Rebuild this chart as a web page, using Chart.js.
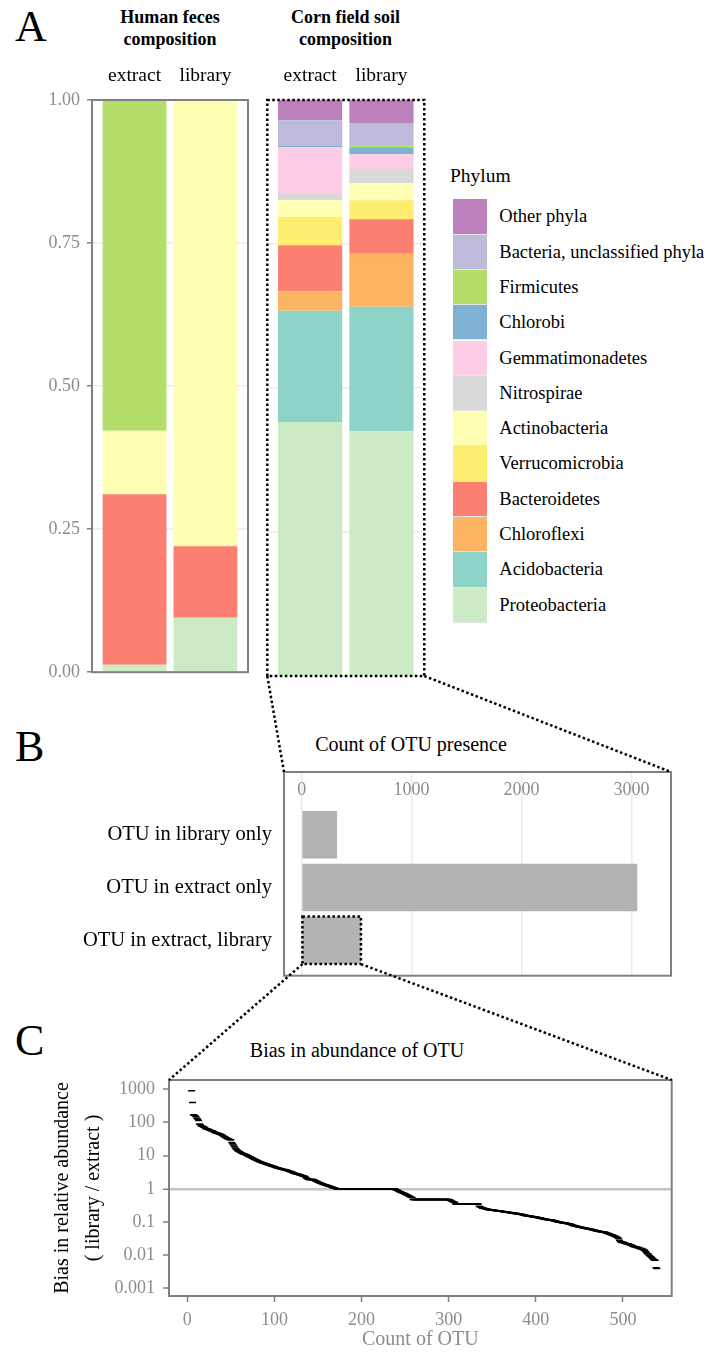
<!DOCTYPE html>
<html><head><meta charset="utf-8">
<script src="https://cdn.jsdelivr.net/npm/chart.js@4/dist/chart.umd.min.js"></script>
<style>
html,body{margin:0;padding:0;background:#fff;}
body{width:706px;height:1352px;position:relative;overflow:hidden;font-family:"Liberation Serif",serif;color:#000;}
canvas{position:absolute;}
.t{position:absolute;white-space:nowrap;}
.letter{font-size:44px;line-height:44px;}
.key{position:absolute;left:452.7px;width:34px;height:35.3px;box-sizing:border-box;border-bottom:1px solid #e6e6e6;}
.klab{position:absolute;left:499.3px;height:35.3px;line-height:35.3px;font-size:18.5px;white-space:nowrap;}
</style></head><body>
<div class="t letter" style="left:15px;top:5px;">A</div>
<div class="t letter" style="left:15px;top:725px;">B</div>
<div class="t letter" style="left:15px;top:1019px;">C</div>
<div class="t" style="left:92px;width:156px;top:6px;text-align:center;font-weight:bold;font-size:18px;line-height:22px;">Human feces<br>composition</div>
<div class="t" style="left:267px;width:157px;top:6px;text-align:center;font-weight:bold;font-size:18px;line-height:22px;">Corn field soil<br>composition</div>
<div class="t" style="left:211px;width:400px;top:734px;text-align:center;font-size:20px;line-height:20px;">Count of OTU presence</div>
<div class="t" style="left:157px;width:400px;top:1040px;text-align:center;font-size:20px;line-height:20px;">Bias in abundance of OTU</div>
<div class="t" style="left:450px;top:166px;font-size:19.5px;line-height:19.5px;">Phylum</div>
<div id="legend"></div>
<canvas id="feces" width="260" height="690" style="left:0;top:0"></canvas>
<canvas id="soil" width="180" height="690" style="left:256px;top:0"></canvas>
<canvas id="presence" width="690" height="240" style="left:0;top:760px"></canvas>
<canvas id="bias" width="706" height="352" style="left:0;top:1000px"></canvas>
<canvas id="overlay" width="706" height="1352" style="left:0;top:0;pointer-events:none"></canvas>
<script>
// ---------- data ----------
const phyla = ['Proteobacteria','Acidobacteria','Chloroflexi','Bacteroidetes','Verrucomicrobia','Actinobacteria','Nitrospirae','Gemmatimonadetes','Chlorobi','Firmicutes','Bacteria, unclassified phyla','Other phyla'];
const phylumColors = ['#CCEBC5','#8DD3C7','#FDB462','#FB8072','#FFED6F','#FFFFB3','#D9D9D9','#FCCDE5','#80B1D3','#B3DE69','#BEBADA','#BC80BD'];
const samples = ['extract','library'];
const fecesExtract = [0.013,0,0,0.298,0,0.111,0,0,0,0.578,0,0];
const fecesLibrary = [0.095,0,0,0.125,0.002,0.778,0,0,0,0,0,0];
const soilExtract  = [0.441,0.193,0.034,0.080,0.049,0.029,0.011,0.081,0.002,0,0.045,0.035];
const soilLibrary  = [0.425,0.216,0.092,0.060,0.033,0.030,0.024,0.026,0.012,0.004,0.038,0.040];
const shareTicks = [0,0.25,0.5,0.75,1];

const presenceCategories = ['OTU in library only','OTU in extract only','OTU in extract, library'];
const presenceCounts = [322,3053,539];
const presenceTicks = [0,1000,2000,3000];

const biasStartRank = 5;
const biasValues = [
900,400,
170,165,160,150,135,125,115,
90,85,78,77,75,72,70,
66,65,63,62,60,58,57,56,55,53,52,50,49,48,47,46,45,44,43,42,
40,38,37,35,34,33,32,31,30,30,
25,23,21,19,17,16,15,
14,13.5,13,12.6,12.2,11.8,11.5,11.2,11,10.7,10.4,10.1,9.8,9.5,9.2,8.9,8.6,8.3,8.0,7.8,7.6,7.4,7.2,
7.0,6.8,6.6,6.5,6.3,6.1,6.0,5.9,5.8,5.6,5.5,5.4,5.3,5.2,5.1,5.0,
4.9,4.8,4.7,4.6,4.5,4.4,4.3,4.25,4.2,4.1,4.0,3.95,3.9,3.85,3.8,3.75,3.7,3.6,3.55,
3.5,3.4,3.3,3.25,3.2,3.1,3.0,2.95,2.9,2.85,2.8,2.75,2.7,2.65,2.6,2.55,2.5,2.45,2.4,2.35,
2.2,2.1,2.0,1.95,1.9,1.9,1.9,1.9,1.9,1.85,
1.8,1.75,1.7,1.65,1.6,1.56,1.52,1.48,1.45,1.42,1.38,1.35,1.32,
1.3,1.27,1.25,1.22,1.2,1.18,1.15,1.13,1.1,1.08,1.06,1.05,
1,1,1,1,1,1,1,1,1,1,1,1,1,1,1,1,1,
1,1,1,1,1,1,1,1,1,1,1,1,1,1,1,1,1,
1,1,1,1,1,1,1,1,1,1,1,1,1,1,1,1,1,
1,1,1,1,1,1,1,1,1,1,1,1,1,1,1,1,1,
0.95,0.92,0.9,0.87,0.85,0.82,0.8,0.78,0.76,0.74,0.72,0.7,0.68,0.66,0.64,0.62,0.6,0.58,0.56,0.55,
0.48,0.48,0.48,0.48,0.48,0.48,0.48,0.48,0.48,0.48,0.48,0.48,0.48,0.48,
0.48,0.48,0.48,0.48,0.48,0.48,0.48,0.48,0.48,0.48,0.48,0.48,0.48,0.48,
0.48,0.48,0.48,0.48,0.48,0.48,0.48,0.48,0.48,0.48,0.48,0.48,0.48,0.48,
0.46,0.45,0.43,0.42,0.41,0.4,0.39,
0.35,0.35,0.35,0.35,0.35,0.35,0.35,0.35,0.35,
0.35,0.35,0.35,0.35,0.35,0.35,0.35,0.35,0.35,
0.35,0.35,0.35,0.35,0.35,0.35,0.35,0.35,0.35,
0.3,0.29,0.28,0.27,0.26,0.26,
0.255,0.25,0.25,0.245,0.24,0.24,0.235,0.235,0.23,0.23,0.228,0.226,0.224,0.222,0.22,0.22,0.218,0.216,0.214,0.212,
0.21,0.208,0.205,0.203,0.2,0.2,0.198,0.196,0.194,0.192,0.19,0.19,0.188,0.186,0.184,0.182,0.18,0.18,0.178,0.176,
0.175,0.172,0.17,0.168,0.165,0.162,0.16,0.158,0.156,0.154,0.152,0.15,0.149,0.148,0.147,0.146,0.145,0.143,0.141,0.14,
0.139,0.137,0.135,0.133,0.131,0.13,0.128,0.126,0.125,0.123,0.122,0.12,0.119,0.118,0.117,0.116,0.115,0.114,0.113,0.112,
0.11,0.108,0.106,0.104,0.102,0.1,0.099,0.098,0.097,0.096,0.095,0.094,0.093,0.092,0.091,0.09,0.089,0.088,0.087,0.085,
0.083,0.081,0.079,0.078,0.076,0.075,0.074,0.073,0.072,0.071,0.07,0.069,0.068,0.067,0.066,0.065,0.065,0.064,0.064,0.063,
0.062,0.061,0.06,0.059,0.058,0.057,0.056,0.056,0.055,0.054,0.054,0.053,0.052,0.052,0.051,0.051,0.05,0.05,0.049,0.048,
0.047,0.046,0.045,0.044,0.043,0.042,0.041,0.04,0.039,0.038,0.037,0.036,0.035,0.034,0.032,
0.028,0.026,0.025,0.025,0.024,0.024,0.023,0.023,0.022,0.022,0.022,0.021,0.021,0.02,0.02,
0.019,0.019,0.018,0.018,0.018,0.017,0.017,0.017,0.016,0.016,0.016,0.015,0.015,0.014,0.014,
0.013,0.012,0.011,0.011,0.01,0.0095,0.009,0.0085,0.008,0.0075,0.0072,0.007,
0.0042,0.004
];
const biasXTicks = [0,100,200,300,400,500];
const biasYTicks = [0.001,0.01,0.1,1,10,100,1000];

// ---------- styling ----------
const GRAY_TXT = '#8c8c8c';
const BOX_GRAY = '#808080';
const GRID = '#EBEBEB';
Chart.defaults.font.family = '"Liberation Serif", serif';
Chart.defaults.animation = false;
Chart.defaults.responsive = false;
Chart.defaults.devicePixelRatio = 1;
Chart.defaults.plugins.legend.display = false;
Chart.defaults.plugins.tooltip.enabled = false;

const panelBox = {
  id: 'panelBox',
  afterDatasetsDraw(chart, args, opts) {
    const a = chart.chartArea, ctx = chart.ctx;
    ctx.save();
    ctx.strokeStyle = opts.color; ctx.lineWidth = opts.width;
    ctx.setLineDash(opts.dash || []);
    const top = a.top - (opts.extendTop || 0);
    ctx.strokeRect(a.left, top, a.right - a.left, a.bottom - top);
    ctx.restore();
  }
};
const dottedBar = {
  id: 'dottedBar',
  afterDatasetsDraw(chart, args, opts) {
    const el = chart.getDatasetMeta(0).data[opts.index];
    const p = el.getProps(['x','y','base','height'], true);
    const ctx = chart.ctx;
    ctx.save();
    ctx.strokeStyle = '#000'; ctx.lineWidth = 2.5; ctx.setLineDash([2.5,2.5]);
    ctx.strokeRect(Math.min(p.x,p.base), p.y - p.height/2, Math.abs(p.x - p.base), p.height);
    ctx.restore();
  }
};

function compositionChart(id, extractVals, libraryVals, showY, box) {
  const sampleVals = [extractVals, libraryVals];
  const datasets = phyla.map((p, i) => ({
    label: p,
    data: samples.map((s, j) => ({x: j + 1, y: sampleVals[j][i]})),
    backgroundColor: phylumColors[i],
    borderWidth: 0,
    categoryPercentage: 1,
    barPercentage: 0.9
  }));
  return new Chart(document.getElementById(id), {
    type: 'bar',
    data: {datasets},
    plugins: [panelBox],
    options: {
      layout: {padding: {top: 0, bottom: 14, right: showY ? 12 : 11.7, left: 0}},
      plugins: {panelBox: box},
      scales: {
        x: {
          type: 'linear', position: 'top', min: 0.4, max: 2.6, stacked: true, offset: false,
          afterBuildTicks: s => { s.ticks = samples.map((v, j) => ({value: j + 1})); },
          ticks: {callback: v => samples[v - 1], color: '#000', font: {size: 19.5}, padding: 12, maxRotation: 0, autoSkip: false},
          grid: {display: false, drawTicks: false, offset: false},
          border: {display: false},
          afterFit: s => { s.height = 100; }
        },
        y: {
          type: 'linear', min: 0, max: 1, stacked: true,
          afterBuildTicks: s => { s.ticks = shareTicks.map(v => ({value: v})); },
          ticks: {display: showY, callback: v => v.toFixed(2), color: GRAY_TXT, font: {size: 18}, padding: 7},
          grid: {color: GRID, lineWidth: 1.5, drawTicks: showY, tickLength: 5, tickColor: BOX_GRAY, tickWidth: 1.5},
          border: {display: false},
          afterFit: s => { s.width = showY ? 92 : 11.3; }
        }
      }
    }
  });
}

const fecesChart = compositionChart('feces', fecesExtract, fecesLibrary, true, {color: BOX_GRAY, width: 2});
const soilChart = compositionChart('soil', soilExtract, soilLibrary, false, {color: '#000', width: 2.5, dash: [2.5, 2.5]});

// legend (HTML)
const legendEl = document.getElementById('legend');
phyla.slice().reverse().forEach((p, k) => {
  const i = phyla.length - 1 - k;
  const top = 199.3 + k * 35.3;
  const key = document.createElement('div');
  key.className = 'key'; key.style.top = top + 'px'; key.style.background = phylumColors[i];
  legendEl.appendChild(key);
  const lab = document.createElement('div');
  lab.className = 'klab'; lab.style.top = top + 'px'; lab.textContent = p;
  legendEl.appendChild(lab);
});

const presenceChart = new Chart(document.getElementById('presence'), {
  type: 'bar',
  data: {datasets: [{
    data: presenceCounts.map((c, i) => ({x: c, y: i + 1})),
    backgroundColor: '#B3B3B3', borderWidth: 0, categoryPercentage: 1, barPercentage: 0.9
  }]},
  plugins: [panelBox, dottedBar],
  options: {
    indexAxis: 'y',
    layout: {padding: {top: 0, bottom: 8, right: 19, left: 0}},
    plugins: {panelBox: {color: BOX_GRAY, width: 2, extendTop: 31}, dottedBar: {index: 2}},
    scales: {
      x: {
        type: 'linear', position: 'top', min: -161, max: 3360, offset: false,
        afterBuildTicks: s => { s.ticks = presenceTicks.map(v => ({value: v})); },
        ticks: {callback: v => String(v), color: GRAY_TXT, font: {size: 18}, padding: -28.8, maxRotation: 0, autoSkip: false},
        grid: {color: GRID, lineWidth: 1.5, tickLength: 31, tickColor: GRID, tickWidth: 1.5, offset: false},
        border: {display: false},
        afterFit: s => { s.height = 43; }
      },
      y: {
        type: 'linear', min: 0.4, max: 3.67, reverse: true, offset: false,
        afterBuildTicks: s => { s.ticks = presenceCategories.map((c, i) => ({value: i + 1})); },
        ticks: {callback: v => presenceCategories[v - 1], color: '#000', font: {size: 20.5}, padding: 12, autoSkip: false},
        grid: {display: false, drawTicks: false, offset: false},
        border: {display: false},
        afterFit: s => { s.width = 284; }
      }
    }
  }
});

const biasChart = new Chart(document.getElementById('bias'), {
  type: 'scatter',
  data: {datasets: [{
    data: biasValues.map((v, i) => ({x: biasStartRank + i, y: v})),
    pointStyle: 'line', pointRadius: 3.5, pointHoverRadius: 3.5,
    borderWidth: 1.5, borderColor: '#000', backgroundColor: '#000'
  }]},
  plugins: [panelBox],
  options: {
    layout: {padding: {top: 80, bottom: 0, right: 34.3, left: 0}},
    plugins: {panelBox: {color: BOX_GRAY, width: 2}},
    scales: {
      x: {
        type: 'linear', min: -21, max: 556,
        afterBuildTicks: s => { s.ticks = biasXTicks.map(v => ({value: v})); },
        ticks: {color: GRAY_TXT, font: {size: 18}, padding: 7, maxRotation: 0, autoSkip: false},
        grid: {drawOnChartArea: false, tickLength: 6, tickColor: BOX_GRAY, tickWidth: 1.5},
        border: {display: false},
        title: {display: true, text: 'Count of OTU', color: GRAY_TXT, font: {size: 20}, padding: {top: 0, bottom: 0}},
        afterFit: s => { s.height = 56; }
      },
      y: {
        type: 'logarithmic', min: 0.000589, max: 1905,
        afterBuildTicks: s => { s.ticks = biasYTicks.map(v => ({value: v})); },
        ticks: {callback: v => String(v), color: GRAY_TXT, font: {size: 18}, padding: 8, autoSkip: false},
        grid: {
          color: c => (c.tick && c.tick.value === 1) ? '#C4C4C4' : 'rgba(0,0,0,0)',
          lineWidth: c => (c.tick && c.tick.value === 1) ? 2.5 : 0,
          tickLength: 6, tickColor: BOX_GRAY, tickWidth: 1.5
        },
        border: {display: false},
        title: {display: true, text: ['Bias in relative abundance', '( library / extract )'], color: '#000', font: {size: 20, lineHeight: 1.55}, padding: {top: 46.8, bottom: 0}},
        afterFit: s => { s.width = 169; }
      }
    }
  }
});

// ---------- dotted zoom connectors ----------
function offsetOf(chart) {
  const c = chart.canvas;
  return {x: parseFloat(c.style.left) || 0, y: parseFloat(c.style.top) || 0};
}
const ov = document.getElementById('overlay').getContext('2d');
ov.strokeStyle = '#000'; ov.lineWidth = 2.5; ov.setLineDash([2.5, 2.5]);
function seg(a, b) { ov.beginPath(); ov.moveTo(a.x, a.y); ov.lineTo(b.x, b.y); ov.stroke(); }
{
  const so = offsetOf(soilChart), sa = soilChart.chartArea;
  const po = offsetOf(presenceChart), pa = presenceChart.chartArea;
  const ext = 31;
  seg({x: so.x + sa.left, y: so.y + sa.bottom}, {x: po.x + pa.left, y: po.y + pa.top - ext});
  seg({x: so.x + sa.right, y: so.y + sa.bottom}, {x: po.x + pa.right, y: po.y + pa.top - ext});
  const el = presenceChart.getDatasetMeta(0).data[2].getProps(['x','y','base','height'], true);
  const bo = offsetOf(biasChart), ba = biasChart.chartArea;
  const barBottom = po.y + el.y + el.height / 2;
  seg({x: po.x + Math.min(el.x, el.base), y: barBottom}, {x: bo.x + ba.left, y: bo.y + ba.top});
  seg({x: po.x + Math.max(el.x, el.base), y: barBottom}, {x: bo.x + ba.right, y: bo.y + ba.top});
}
</script>
</body></html>
